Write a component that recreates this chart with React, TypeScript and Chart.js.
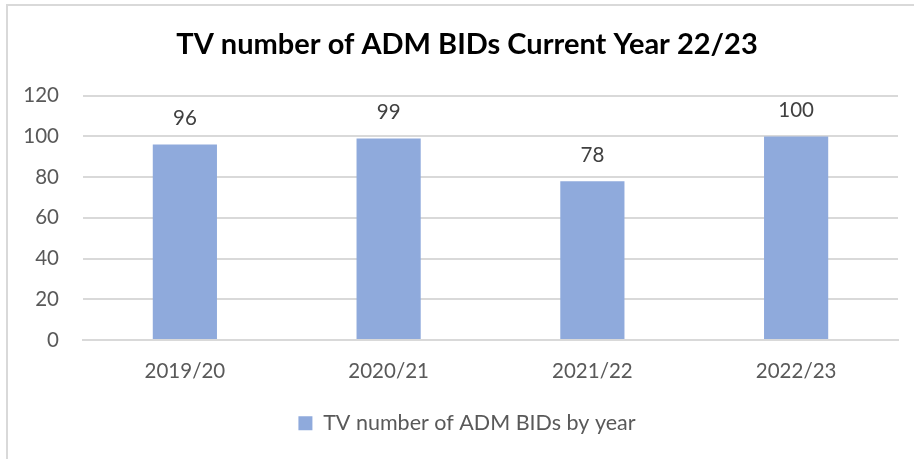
import React, { useEffect, useRef } from "react";
import { Chart, registerables } from "chart.js";

Chart.register(...registerables);

const categories = ["2019/20", "2020/21", "2021/22", "2022/23"];
const bidValues = [96, 99, 78, 100];
const seriesLabel = "TV number of ADM BIDs by year";
const chartTitle = "TV number of ADM BIDs Current Year 22/23";

const FONT = "Lato, 'Open Sans', sans-serif";

const valueLabels = {
  id: "valueLabels",
  afterDatasetsDraw(chart: any) {
    const ctx = chart.ctx;
    const meta = chart.getDatasetMeta(0);
    ctx.save();
    ctx.fillStyle = "#404040";
    ctx.font = `20.5px ${FONT}`;
    ctx.textAlign = "center";
    ctx.textBaseline = "middle";
    meta.data.forEach((el: any, i: number) => {
      ctx.fillText(String(chart.data.datasets[0].data[i]), el.x, el.y - 26);
    });
    ctx.restore();
  },
};

export default function App() {
  const ref = useRef<HTMLCanvasElement>(null);
  useEffect(() => {
    document.body.style.margin = "0";
    const chart = new Chart(ref.current!, {
      type: "bar",
      data: {
        labels: categories,
        datasets: [
          {
            label: seriesLabel,
            data: bidValues,
            backgroundColor: "#8FAADC",
            categoryPercentage: 0.63,
            barPercentage: 0.5,
          },
        ],
      },
      options: {
        animation: false,
        responsive: false,
        maintainAspectRatio: false,
        layout: { padding: { left: 36, right: 16, top: 0, bottom: 15 } },
        plugins: {
          title: {
            display: true,
            text: chartTitle,
            color: "#000000",
            font: { family: FONT, size: 29, weight: "bold" },
            padding: { top: 27, bottom: 34 },
          },
          legend: {
            position: "bottom",
            labels: {
              color: "#595959",
              font: { family: FONT, size: 21.5 },
              boxWidth: 14,
              boxHeight: 14,
              padding: 10,
            },
          },
          tooltip: { enabled: false },
        },
        scales: {
          x: {
            grid: { display: false, drawTicks: false },
            border: { color: "#d9d9d9", width: 2 },
            ticks: { color: "#595959", font: { family: FONT, size: 20.5 }, padding: 19 },
          },
          y: {
            min: 0,
            max: 120,
            afterFit: (s: any) => {
              s.width = 47;
              s._computeLabelArea = () => undefined;
            },
            grid: { color: "#d9d9d9", drawTicks: false, lineWidth: 2 },
            border: { display: false },
            ticks: {
              stepSize: 20,
              color: "#595959",
              font: { family: FONT, size: 20.5 },
              padding: 24,
            },
          },
        },
      },
      plugins: [valueLabels],
    });
    return () => chart.destroy();
  }, []);
  return (
    <div style={{ position: "relative", width: 914, height: 459, background: "#fff", overflow: "hidden" }}>
      <div
        style={{
          position: "absolute",
          left: 6,
          top: 4,
          width: 940,
          height: 480,
          border: "2px solid #d9d9d9",
          boxSizing: "border-box",
        }}
      />
      <canvas ref={ref} width={914} height={459} style={{ position: "absolute", left: 0, top: 0 }} />
    </div>
  );
}
